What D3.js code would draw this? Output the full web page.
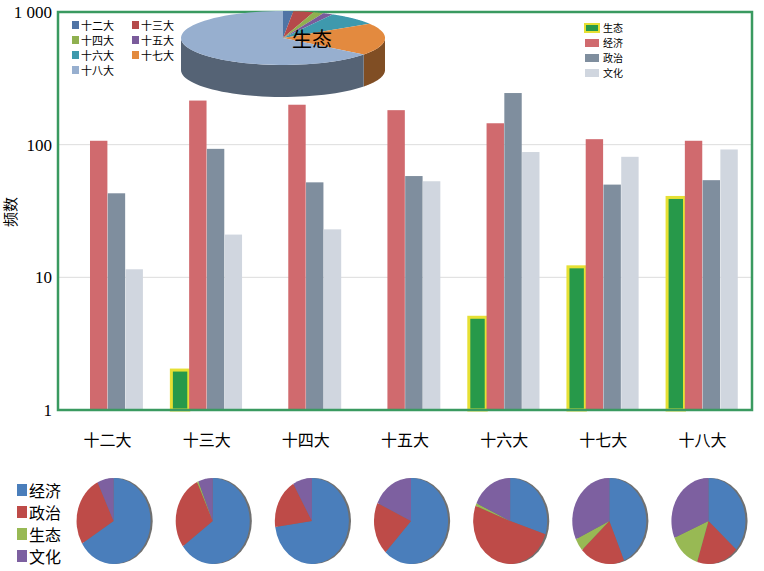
<!DOCTYPE html><html><head><meta charset="utf-8">
<script src="https://cdn.jsdelivr.net/npm/d3@7"></script>
<style>body{margin:0;background:#fff}text{font-family:"Noto Sans CJK SC",sans-serif}</style></head><body>
<svg id="c" width="764" height="571"></svg>
<script>
const congresses=["十二大","十三大","十四大","十五大","十六大","十七大","十八大"];
const series=["生态","经济","政治","文化"];
const ecology=[0,2,0,0,5,12,40];
const economy=[107,215,200,182,145,110,107];
const politics=[43,93,52,58,245,50,54];
const culture=[11.5,21,23,53,88,81,92];
const yTicks=[1,10,100,1000];
const yTickLabels=["1","10","100","1 000"];
const topPieValues=[1,2,1,1,5,12,40];
const barColors={"生态":"#27994a","经济":"#d06a6e","政治":"#7f8e9e","文化":"#d0d6df"};
const pieColors=["#4a7ebb","#be4b48","#98b954","#7d60a0"];
const pieNames=["经济","政治","生态","文化"];
const topPieColors=["#4f74a5","#b54a4a","#8fb04f","#7a5b9b","#3e99ad","#e38a3f","#97afcf"];

const svg=d3.select("#c");
const L=58,R=752,T=12,B=410;
const x0=d3.scaleBand().domain(congresses).range([L,R]).paddingInner(0.28).paddingOuter(0.14);
const x1=d3.scaleBand().domain(series).range([0,x0.bandwidth()]).padding(0.02);
const y=d3.scaleLog().domain([1,1000]).range([B,T]);
svg.selectAll(".g").data([10,100]).join("line").attr("x1",L).attr("x2",R).attr("y1",d=>y(d)).attr("y2",d=>y(d)).attr("stroke","#ddd");
const vals={"生态":ecology,"经济":economy,"政治":politics,"文化":culture};
series.forEach(s=>{
  svg.selectAll(null).data(congresses.map((c,i)=>({c,v:vals[s][i]})).filter(d=>d.v>0)).join("rect")
   .attr("x",d=>x0(d.c)+x1(s)).attr("width",x1.bandwidth()).attr("y",d=>y(d.v)).attr("height",d=>B-y(d.v))
   .attr("fill",barColors[s]).attr("stroke",s==="生态"?"#e6e034":"none").attr("stroke-width",s==="生态"?3:0);
});
svg.append("rect").attr("x",L).attr("y",T).attr("width",R-L).attr("height",B-T).attr("fill","none").attr("stroke","#3a9a60").attr("stroke-width",2.5);
svg.selectAll(null).data(yTicks).join("text").attr("x",L-6).attr("y",d=>y(d)+6).attr("text-anchor","end")
  .style("font-family","Liberation Serif").attr("font-size",17).text((d,i)=>yTickLabels[i]);
svg.append("text").attr("transform","translate(16,212) rotate(-90)").attr("text-anchor","middle").attr("font-size",15).text("频数");
svg.selectAll(null).data(congresses).join("text").attr("x",d=>x0(d)+x0.bandwidth()/2).attr("y",446).attr("text-anchor","middle").attr("font-size",16).text(d=>d);
series.forEach((s,i)=>{
  const g=svg.append("g").attr("transform",`translate(585,${24+i*15})`);
  g.append("rect").attr("width",14).attr("height",8).attr("fill",barColors[s]).attr("stroke",s==="生态"?"#e6e034":"none").attr("stroke-width",2);
  g.append("text").attr("x",18).attr("y",8).attr("font-size",10).text(s);
});
congresses.forEach((c,i)=>{
  const g=svg.append("g").attr("transform",`translate(72+0,${20+Math.floor(i/2)*15})`.replace("72+0",72+(i%2)*60));
  g.append("rect").attr("y",1).attr("width",7).attr("height",8).attr("fill",topPieColors[i]);
  g.append("text").attr("x",9).attr("y",10).attr("font-size",11).text(c);
});
(function(){
  const cx=283,cy=38,rx=102,ry=27,dep=32;
  const arcs=d3.pie().sort(null)(topPieValues);
  const P=(a,dy=0)=>[cx+rx*Math.sin(a),cy-ry*Math.cos(a)+dy];
  const shade=c=>d3.color(c).darker(1.6);
  arcs.forEach((a,i)=>{
    const s=Math.max(a.startAngle,Math.PI/2),e=Math.min(a.endAngle,3*Math.PI/2);
    if(e>s){
      const pts=[];for(let k=0;k<=40;k++)pts.push(P(s+(e-s)*k/40));
      for(let k=40;k>=0;k--)pts.push(P(s+(e-s)*k/40,dep));
      svg.append("path").attr("d",d3.line()(pts)+"Z").attr("fill",shade(topPieColors[i]));
    }
  });
  arcs.forEach((a,i)=>{
    const pts=[[cx,cy]];for(let k=0;k<=60;k++)pts.push(P(a.startAngle+(a.endAngle-a.startAngle)*k/60));
    svg.append("path").attr("d",d3.line()(pts)+"Z").attr("fill",topPieColors[i]);
  });
  svg.append("text").attr("x",312).attr("y",47).attr("text-anchor","middle").attr("font-size",20).text("生态");
})();
pieNames.forEach((n,i)=>{
  const g=svg.append("g").attr("transform",`translate(17,${482+i*22})`);
  g.append("rect").attr("y",2).attr("width",10).attr("height",12).attr("fill",pieColors[i]);
  g.append("text").attr("x",12).attr("y",15).attr("font-size",16).text(n);
});
congresses.forEach((c,j)=>{
  const v=[economy[j],politics[j],ecology[j],culture[j]];
  const cx=x0(c)+x0.bandwidth()/2+6,cy=521,rx=37,ry=43;
  const g=svg.append("g").attr("transform",`translate(${cx},${cy}) scale(${rx/ry},1)`);
  g.append("circle").attr("cx",2.5).attr("r",ry).attr("fill","#333").attr("opacity",0.7);
  g.selectAll(null).data(d3.pie().sort(null)(v)).join("path").attr("d",d3.arc().innerRadius(0).outerRadius(ry)).attr("fill",(d,i)=>pieColors[i]);
});
</script></body></html>
